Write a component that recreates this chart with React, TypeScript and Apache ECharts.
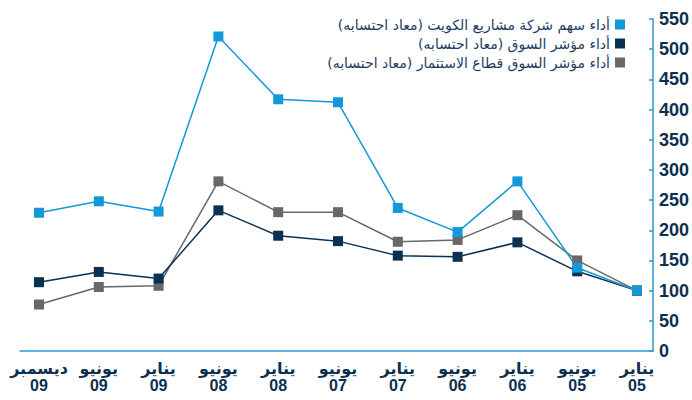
import React, { useEffect, useRef } from "react";
import * as echarts from "echarts";

const categories = [
  "يناير\n05",
  "يونيو\n05",
  "يناير\n06",
  "يونيو\n06",
  "يناير\n07",
  "يونيو\n07",
  "يناير\n08",
  "يونيو\n08",
  "يناير\n09",
  "يونيو\n09",
  "ديسمبر\n09",
];

const companyName = "أداء سهم شركة مشاريع الكويت (معاد احتسابه)\u200F";
const marketName = "أداء مؤشر السوق (معاد احتسابه)\u200F";
const sectorName = "أداء مؤشر السوق قطاع الاستثمار (معاد احتسابه)\u200F";

const companyValues = [100, 138, 281, 197, 237, 412, 417, 521, 231, 248, 229];
const marketValues = [100, 132, 180, 156, 158, 182, 191, 233, 120, 131, 114];
const sectorValues = [100, 150, 225, 184, 181, 230, 230, 281, 108, 106, 77];

const BLUE = "#1398d8";
const NAVY = "#0a3152";
const GRAY = "#686868";
const AXIS = "#2a9ad6";
const TEXT = "#0b2f4f";

export default function App() {
  const ref = useRef<HTMLDivElement>(null);
  useEffect(() => {
    if (!ref.current) return;
    const chart = echarts.init(ref.current, null, { renderer: "svg" });
    const mk = (name: string, data: number[], color: string) => ({
      name,
      type: "line",
      xAxisIndex: 0,
      yAxisIndex: 0,
      data,
      symbol: "rect",
      symbolSize: 10,
      lineStyle: { color, width: 1.5 },
      itemStyle: { color },
      emphasis: { disabled: true },
    });
    chart.setOption({
      animation: false,
      backgroundColor: "#ffffff",
      textStyle: { fontFamily: "'Liberation Sans', 'DejaVu Sans', Arial, sans-serif" },
      legend: {
        orient: "vertical",
        right: 62,
        top: 12,
        align: "right",
        icon: "rect",
        itemWidth: 10,
        itemHeight: 10,
        itemGap: 4,
        selectedMode: false,
        data: [companyName, marketName, sectorName],
        textStyle: {
          fontSize: 14,
          lineHeight: 15,
          color: "#1e3c63",
          fontFamily: "'DejaVu Sans', sans-serif",
        },
      },
      grid: [
        { left: 39, right: 55, top: 19, bottom: 49 },
        { left: 20, right: 39, top: 19, bottom: 49 },
      ],
      xAxis: [
        {
          type: "category",
          gridIndex: 0,
          data: categories,
          inverse: true,
          boundaryGap: false,
          axisLine: { show: false },
          axisTick: { show: false },
          splitLine: { show: false },
          axisLabel: {
            interval: 0,
            fontSize: 16,
            fontWeight: "bold",
            color: TEXT,
            lineHeight: 17,
            margin: 9,
          },
        },
        {
          type: "value",
          gridIndex: 1,
          min: 0,
          max: 1,
          axisLine: { show: true, onZero: false, lineStyle: { color: AXIS, width: 1.5 } },
          axisTick: { show: false },
          axisLabel: { show: false },
          splitLine: { show: false },
        },
      ],
      yAxis: [
        {
          type: "value",
          gridIndex: 0,
          min: 0,
          max: 550,
          show: false,
          splitLine: { show: false },
        },
        {
          type: "value",
          gridIndex: 1,
          min: 0,
          max: 550,
          interval: 50,
          position: "right",
          axisLine: { show: true, onZero: false, lineStyle: { color: AXIS, width: 1.5 } },
          axisTick: { show: true, inside: true, length: 4, lineStyle: { color: AXIS, width: 1.5 } },
          splitLine: { show: false },
          axisLabel: {
            fontSize: 18,
            fontWeight: "bold",
            color: TEXT,
            margin: 6,
          },
        },
      ],
      series: [
        mk(sectorName, sectorValues, GRAY),
        mk(marketName, marketValues, NAVY),
        mk(companyName, companyValues, BLUE),
      ],
    });
    return () => chart.dispose();
  }, []);
  return (
    <div
      ref={ref}
      style={{ position: "fixed", left: 0, top: 0, width: 692, height: 400, background: "#fff" }}
    />
  );
}
